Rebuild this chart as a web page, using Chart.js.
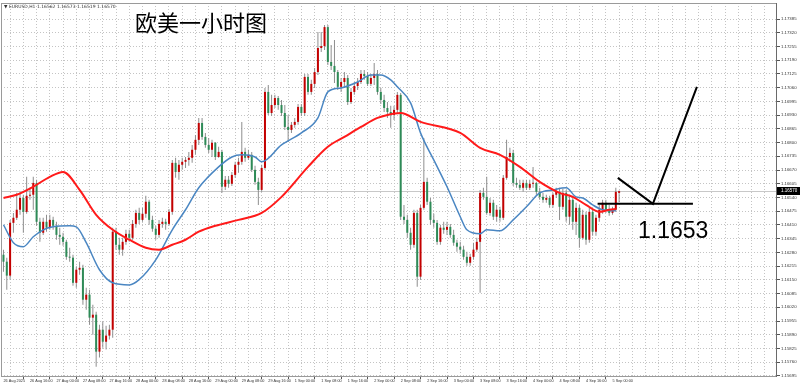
<!DOCTYPE html>
<html>
<head>
<meta charset="utf-8">
<title>欧美一小时图</title>
<script src="https://cdn.jsdelivr.net/npm/chart.js@4.4.1/dist/chart.umd.min.js"></script>
<style>
  html, body { margin: 0; padding: 0; background: #fff; }
  canvas { display: block; }
</style>
</head>
<body>
<canvas id="kline" width="800" height="388"></canvas>
<script>
// EURUSD H1 candles, 26 Aug 08:00 -> 5 Sep 02:00
const openP = [
  1.16269,1.16236,1.16170,1.16420,1.16444,1.16482,1.16538,1.16472,1.16548,1.16553,
  1.16609,1.16425,1.16373,1.16425,1.16397,1.16434,1.16406,1.16363,1.16354,1.16330,
  1.16259,1.16255,1.16136,1.16198,1.16207,1.16056,1.16080,1.15971,1.15985,1.15810,
  1.15914,1.15857,1.15886,1.15914,1.16378,1.16316,1.16293,1.16330,1.16368,1.16349,
  1.16415,1.16467,1.16434,1.16463,1.16520,1.16434,1.16392,1.16363,1.16415,1.16425,
  1.16415,1.16472,1.16704,1.16661,1.16695,1.16709,1.16718,1.16728,1.16766,1.16813,
  1.16893,1.16827,1.16789,1.16766,1.16799,1.16732,1.16756,1.16591,1.16624,1.16605,
  1.16647,1.16695,1.16709,1.16756,1.16728,1.16742,1.16671,1.16614,1.16576,1.16680,
  1.17040,1.16940,1.16978,1.17011,1.16978,1.16940,1.16874,1.16860,1.16884,1.16898,
  1.16969,1.16940,1.17111,1.17040,1.17078,1.17134,1.17248,1.17257,1.17347,1.17182,
  1.17163,1.17134,1.17064,1.17087,1.17106,1.16992,1.17040,1.17068,1.17087,1.17125,
  1.17115,1.17078,1.17106,1.17125,1.17040,1.17002,1.16964,1.16945,1.16931,1.16955,
  1.17026,1.16449,1.16434,1.16373,1.16316,1.16467,1.16165,1.16491,1.16614,1.16520,
  1.16434,1.16420,1.16330,1.16397,1.16387,1.16401,1.16363,1.16326,1.16307,1.16293,
  1.16259,1.16231,1.16259,1.16293,1.16330,1.16562,1.16543,1.16467,1.16515,1.16449,
  1.16482,1.16444,1.16633,1.16732,1.16751,1.16609,1.16600,1.16586,1.16609,1.16586,
  1.16605,1.16609,1.16567,1.16543,1.16529,1.16538,1.16505,1.16553,1.16567,1.16496,
  1.16562,1.16449,1.16529,1.16425,1.16491,1.16349,1.16458,1.16340,1.16472,1.16378,
  1.16444,1.16482,1.16515,1.16482,1.16467,1.16482,1.16562
];
const highP = [
  1.16293,1.16255,1.16434,1.16467,1.16562,1.16567,1.16553,1.16638,1.16586,1.16638,
  1.16624,1.16444,1.16444,1.16458,1.16458,1.16449,1.16425,1.16397,1.16373,1.16340,
  1.16302,1.16269,1.16212,1.16236,1.16222,1.16113,1.16103,1.16032,1.15999,1.15938,
  1.15952,1.15933,1.15938,1.16397,1.16397,1.16349,1.16349,1.16387,1.16387,1.16434,
  1.16482,1.16491,1.16491,1.16548,1.16529,1.16453,1.16406,1.16434,1.16444,1.16439,
  1.16486,1.16718,1.16728,1.16718,1.16728,1.16732,1.16756,1.16789,1.16836,1.16917,
  1.16917,1.16846,1.16822,1.16813,1.16803,1.16780,1.16766,1.16642,1.16642,1.16661,
  1.16709,1.16728,1.16898,1.16775,1.16766,1.16756,1.16690,1.16633,1.16695,1.17059,
  1.17073,1.17026,1.17026,1.17021,1.17002,1.16978,1.16931,1.16898,1.16917,1.16983,
  1.16983,1.17125,1.17125,1.17097,1.17153,1.17324,1.17324,1.17357,1.17357,1.17262,
  1.17286,1.17144,1.17106,1.17134,1.17120,1.17059,1.17087,1.17106,1.17144,1.17144,
  1.17134,1.17125,1.17177,1.17144,1.17059,1.17026,1.16992,1.16974,1.16974,1.17040,
  1.17035,1.16505,1.16458,1.16397,1.16482,1.16482,1.16505,1.16822,1.16633,1.16538,
  1.16463,1.16434,1.16411,1.16425,1.16425,1.16415,1.16387,1.16340,1.16330,1.16311,
  1.16283,1.16274,1.16326,1.16349,1.16576,1.16586,1.16638,1.16538,1.16529,1.16505,
  1.16496,1.16647,1.16813,1.16775,1.16766,1.16633,1.16624,1.16624,1.16624,1.16624,
  1.16685,1.16614,1.16586,1.16562,1.16553,1.16548,1.16562,1.16586,1.16586,1.16581,
  1.16576,1.16553,1.16548,1.16515,1.16505,1.16482,1.16472,1.16491,1.16482,1.16458,
  1.16505,1.16529,1.16529,1.16505,1.16496,1.16586,1.16573
];
const lowP = [
  1.16188,1.16103,1.16151,1.16373,1.16434,1.16458,1.16373,1.16463,1.16529,1.16482,
  1.16406,1.16330,1.16363,1.16378,1.16387,1.16387,1.16340,1.16316,1.16311,1.16245,
  1.16236,1.16122,1.16113,1.16174,1.16032,1.16009,1.15938,1.15890,1.15739,1.15782,
  1.15829,1.15820,1.15867,1.15876,1.16293,1.16269,1.16264,1.16316,1.16330,1.16340,
  1.16397,1.16415,1.16425,1.16444,1.16411,1.16378,1.16340,1.16349,1.16397,1.16387,
  1.16406,1.16458,1.16633,1.16624,1.16671,1.16680,1.16690,1.16704,1.16742,1.16789,
  1.16813,1.16775,1.16751,1.16732,1.16718,1.16728,1.16562,1.16576,1.16586,1.16595,
  1.16633,1.16657,1.16695,1.16709,1.16718,1.16661,1.16600,1.16505,1.16567,1.16671,
  1.16931,1.16926,1.16964,1.16955,1.16926,1.16860,1.16803,1.16846,1.16870,1.16884,
  1.16926,1.16926,1.17026,1.17026,1.17059,1.17120,1.17229,1.17239,1.17168,1.17144,
  1.17082,1.17049,1.17040,1.17059,1.16978,1.16983,1.17026,1.17049,1.17078,1.17097,
  1.17068,1.17068,1.17073,1.17026,1.16983,1.16945,1.16917,1.16870,1.16907,1.16936,
  1.16434,1.16415,1.16349,1.16293,1.16302,1.16117,1.16151,1.16482,1.16505,1.16411,
  1.16397,1.16316,1.16316,1.16368,1.16363,1.16349,1.16311,1.16283,1.16274,1.16245,
  1.16217,1.16217,1.16245,1.16283,1.16089,1.16529,1.16458,1.16453,1.16434,1.16425,
  1.16425,1.16434,1.16624,1.16709,1.16595,1.16586,1.16576,1.16567,1.16576,1.16576,
  1.16586,1.16553,1.16529,1.16515,1.16515,1.16491,1.16491,1.16538,1.16434,1.16482,
  1.16425,1.16411,1.16387,1.16363,1.16302,1.16340,1.16316,1.16326,1.16359,1.16359,
  1.16425,1.16463,1.16467,1.16453,1.16458,1.16472,1.16519
];
const closeP = [
  1.16236,1.16170,1.16420,1.16444,1.16482,1.16538,1.16472,1.16548,1.16553,1.16609,
  1.16425,1.16373,1.16425,1.16397,1.16434,1.16406,1.16363,1.16354,1.16330,1.16259,
  1.16255,1.16136,1.16198,1.16207,1.16056,1.16080,1.15971,1.15985,1.15810,1.15914,
  1.15857,1.15886,1.15914,1.16378,1.16316,1.16293,1.16330,1.16368,1.16349,1.16415,
  1.16467,1.16434,1.16463,1.16520,1.16434,1.16392,1.16363,1.16415,1.16425,1.16415,
  1.16472,1.16704,1.16661,1.16695,1.16709,1.16718,1.16728,1.16766,1.16813,1.16893,
  1.16827,1.16789,1.16766,1.16799,1.16732,1.16756,1.16591,1.16624,1.16605,1.16647,
  1.16695,1.16709,1.16756,1.16728,1.16742,1.16671,1.16614,1.16576,1.16680,1.17040,
  1.16940,1.16978,1.17011,1.16978,1.16940,1.16874,1.16860,1.16884,1.16898,1.16969,
  1.16940,1.17111,1.17040,1.17078,1.17134,1.17248,1.17257,1.17347,1.17182,1.17163,
  1.17134,1.17064,1.17087,1.17106,1.16992,1.17040,1.17068,1.17087,1.17125,1.17115,
  1.17078,1.17106,1.17125,1.17040,1.17002,1.16964,1.16945,1.16931,1.16955,1.17026,
  1.16449,1.16434,1.16373,1.16316,1.16467,1.16165,1.16491,1.16614,1.16520,1.16434,
  1.16420,1.16330,1.16397,1.16387,1.16401,1.16363,1.16326,1.16307,1.16293,1.16259,
  1.16231,1.16259,1.16293,1.16330,1.16562,1.16543,1.16467,1.16515,1.16449,1.16482,
  1.16444,1.16633,1.16732,1.16751,1.16609,1.16600,1.16586,1.16609,1.16586,1.16605,
  1.16609,1.16567,1.16543,1.16529,1.16538,1.16505,1.16553,1.16567,1.16496,1.16562,
  1.16449,1.16529,1.16425,1.16491,1.16349,1.16458,1.16340,1.16472,1.16378,1.16444,
  1.16482,1.16515,1.16482,1.16467,1.16482,1.16567,1.16570
];

// moving averages as seen on the chart: bar index -> price
const fastIdx = [0,3,6,9,12,15,20,22,25,29,33,38,41,46,51,55,59,65,69,72,76,78,84,90,95,98,102,107,111,114,117,119,123,126,130,134,138,140,144,146,150,154,158,162,166,170,173,175,178,181,185];
const fastMA = [1.16411,1.16326,1.16307,1.16354,1.16387,1.16401,1.16406,1.16401,1.16326,1.16198,
  1.16136,1.16126,1.16151,1.16245,1.16387,1.16482,1.16586,1.16685,1.16732,1.16742,
  1.16732,1.16709,1.16789,1.16846,1.16917,1.17040,1.17059,1.17087,1.17120,1.17120,
  1.17097,1.17064,1.16988,1.16846,1.16718,1.16591,1.16449,1.16387,1.16368,1.16387,
  1.16382,1.16434,1.16496,1.16562,1.16576,1.16586,1.16543,1.16538,1.16505,1.16482,1.16477];
const slowIdx = [0,4,9,14,18,23,28,33,38,43,47,51,55,59,64,71,78,84,92,98,103,108,113,116,120,126,138,144,150,156,162,168,172,176,180,183,185];
const slowMA = [1.16538,1.16553,1.16591,1.16638,1.16661,1.16576,1.16458,1.16387,1.16340,1.16302,
  1.16293,1.16316,1.16340,1.16378,1.16406,1.16434,1.16467,1.16543,1.16685,1.16780,
  1.16827,1.16874,1.16917,1.16931,1.16940,1.16898,1.16846,1.16775,1.16742,1.16685,
  1.16614,1.16562,1.16543,1.16505,1.16472,1.16482,1.16486];

const yTicks = [1.15695,1.15760,1.15825,1.15890,1.15955,1.16020,1.16085,1.16150,1.16215,1.16280,
  1.16345,1.16410,1.16475,1.16540,1.16605,1.16670,1.16735,1.16800,1.16865,1.16930,
  1.16995,1.17060,1.17125,1.17190,1.17255,1.17320,1.17385];
// one label every 8 bars, starting at bar 0
const xTickLabels = ['26 Aug 2025','26 Aug 16:00','27 Aug 00:00','27 Aug 08:00','27 Aug 16:00','28 Aug 00:00',
  '28 Aug 08:00','28 Aug 16:00','29 Aug 00:00','29 Aug 08:00','29 Aug 16:00','1 Sep 00:00',
  '1 Sep 08:00','1 Sep 16:00','2 Sep 00:00','2 Sep 08:00','2 Sep 16:00','3 Sep 00:00',
  '3 Sep 08:00','3 Sep 16:00','4 Sep 00:00','4 Sep 08:00','4 Sep 16:00','5 Sep 00:00'];

// hand drawn marks on the screenshot (bar index, price)
const markLevel = 1.16510;
const markFrom = 179.5, markTo = 208.3;
const markPath = [[185.6, 1.16633], [196.2, 1.16510], [209.5, 1.17064]];
const markText = '1.1653';
const markTextPos = [191.7, 1.16349];

const upColor = '#c40000';
const downColor = '#2e8b57';
const wickColor = '#8e8e8e';
const gridColor = '#c4c4c4';

const n = openP.length;
const lastPrice = closeP[n - 1];
const bars = openP.map((o, i) => i);
const gridBars = [];
for (let b = 0; b <= 232; b += 4) gridBars.push(b);

function labelAt(v) {
  if (v % 8 !== 0) return '';
  return xTickLabels[v / 8] || '';
}

const overlay = {
  id: 'overlay',
  beforeDatasetsDraw(chart) {
    const {ctx, chartArea: a, scales: {y}} = chart;
    const py = Math.round(y.getPixelForValue(lastPrice)) + 0.5;
    ctx.save();
    ctx.strokeStyle = '#c8c8c8';
    ctx.lineWidth = 1;
    ctx.beginPath();
    ctx.moveTo(a.left, py);
    ctx.lineTo(a.right, py);
    ctx.stroke();
    ctx.restore();
  },
  afterDraw(chart) {
    const {ctx, chartArea: a, scales: {x, y}} = chart;
    ctx.save();
    // frame
    ctx.strokeStyle = '#9a9a9a';
    ctx.lineWidth = 1;
    ctx.strokeRect(a.left + 0.5, a.top + 0.5, a.right - a.left - 1, a.bottom - a.top - 1);
    ctx.strokeStyle = '#6a6a6a';
    ctx.beginPath();
    ctx.moveTo(a.right - 0.5, a.top);
    ctx.lineTo(a.right - 0.5, a.bottom);
    ctx.stroke();

    // last price box on the axis
    const py = Math.round(y.getPixelForValue(lastPrice));
    ctx.fillStyle = '#000';
    ctx.fillRect(a.right, py - 4, 23, 8);
    ctx.fillStyle = '#fff';
    ctx.font = '4.5px "Liberation Sans"';
    ctx.textBaseline = 'middle';
    ctx.fillText(lastPrice.toFixed(5), a.right + 4, py);

    // header line
    ctx.fillStyle = '#333';
    ctx.font = '4.5px "DejaVu Sans"';
    ctx.fillText('\u25BC EURUSD,H1 ' + openP[n - 1].toFixed(5) + ' ' + highP[n - 1].toFixed(5) + ' ' +
      lowP[n - 1].toFixed(5) + ' ' + closeP[n - 1].toFixed(5), 4, 7);

    // title
    ctx.fillStyle = '#000';
    ctx.font = '22px "Noto Sans CJK SC"';
    ctx.textBaseline = 'alphabetic';
    ctx.fillText('欧美一小时图', 135, 31);

    // hand drawn marks
    ctx.strokeStyle = '#000';
    ctx.lineWidth = 2;
    ctx.lineCap = 'butt';
    ctx.beginPath();
    ctx.moveTo(x.getPixelForValue(markFrom), y.getPixelForValue(markLevel));
    ctx.lineTo(x.getPixelForValue(markTo), y.getPixelForValue(markLevel));
    ctx.stroke();
    ctx.beginPath();
    markPath.forEach((p, k) => {
      const px = x.getPixelForValue(p[0]), pyy = y.getPixelForValue(p[1]);
      if (k === 0) ctx.moveTo(px, pyy); else ctx.lineTo(px, pyy);
    });
    ctx.stroke();
    ctx.font = '23px "Liberation Sans"';
    ctx.fillText(markText, x.getPixelForValue(markTextPos[0]), y.getPixelForValue(markTextPos[1]));
    ctx.restore();
  }
};

new Chart(document.getElementById('kline'), {
  type: 'bar',
  data: {
    datasets: [
      {
        type: 'line', label: 'MA slow',
        data: slowIdx.map((b, k) => ({x: b, y: slowMA[k]})),
        borderColor: '#ff1a1a', borderWidth: 2, pointRadius: 0,
        cubicInterpolationMode: 'monotone', order: 0
      },
      {
        type: 'line', label: 'MA fast',
        data: fastIdx.map((b, k) => ({x: b, y: fastMA[k]})),
        borderColor: '#4a86c2', borderWidth: 1.5, pointRadius: 0,
        cubicInterpolationMode: 'monotone', order: 1
      },
      {
        label: 'body',
        data: bars.map(i => ({x: i, y: [openP[i], closeP[i]]})),
        backgroundColor: bars.map(i => closeP[i] >= openP[i] ? upColor : downColor),
        barThickness: 2, minBarLength: 1, grouped: false, inflateAmount: 0, order: 2
      },
      {
        label: 'wick',
        data: bars.map(i => ({x: i, y: [lowP[i], highP[i]]})),
        backgroundColor: wickColor,
        barThickness: 1, grouped: false, inflateAmount: 0, order: 3
      }
    ]
  },
  options: {
    responsive: false,
    animation: false,
    devicePixelRatio: 1,
    layout: {padding: {left: 1, top: 3, right: 0, bottom: 0}},
    plugins: {legend: {display: false}, tooltip: {enabled: false}},
    scales: {
      x: {
        type: 'linear', min: -0.75, max: 233.7, offset: false,
        afterBuildTicks: s => { s.ticks = gridBars.map(v => ({value: v})); },
        afterFit: s => { s.height = 11; s.paddingLeft = 0; s.paddingRight = 0; },
        ticks: {
          autoSkip: false, maxRotation: 0, minRotation: 0, align: 'start', padding: 0,
          font: {family: 'Liberation Sans', size: 3.8}, color: '#333', callback: v => labelAt(v)
        },
        grid: {
          color: gridColor, lineWidth: 1, drawTicks: true, tickLength: 2,
          tickColor: c => (c.tick && labelAt(c.tick.value)) ? '#555' : 'rgba(0,0,0,0)'
        },
        border: {display: false, dash: [1, 2]}
      },
      y: {
        position: 'right', min: 1.15690, max: 1.17461,
        afterBuildTicks: s => { s.ticks = yTicks.map(v => ({value: v})); },
        afterFit: s => { s.width = 23; s.paddingTop = 0; s.paddingBottom = 0; },
        ticks: {
          autoSkip: false, padding: 1, font: {family: 'Liberation Sans', size: 4.3}, color: '#333',
          callback: v => Number(v).toFixed(5)
        },
        grid: {color: gridColor, lineWidth: 1, drawTicks: true, tickLength: 3, tickColor: '#555'},
        border: {display: false, dash: [1, 2]}
      }
    }
  },
  plugins: [overlay]
});
</script>
</body>
</html>
